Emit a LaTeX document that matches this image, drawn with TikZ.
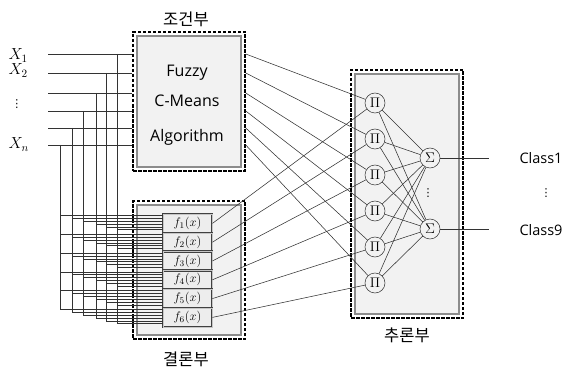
\RequirePackage{fix-cm}
\documentclass[tikz,border=0pt]{standalone}
\usepackage{fontspec}
\newfontfamily\kr{Noto Sans CJK KR}
\newfontfamily\lat{Open Sans}
\newfontfamily\dv{DejaVu Sans}
\definecolor{boxfill}{HTML}{F2F2F2}
\definecolor{boxedge}{HTML}{8C8C8C}
\begin{document}
\begin{tikzpicture}[x=1pt,y=-1pt,
  outerbox/.style={draw=black, line width=1.5pt, dash pattern=on 3.5pt off 1.5pt, minimum width=112pt, inner sep=0pt},
  innerbox/.style={draw=boxedge, line width=1.8pt, fill=boxfill, minimum width=104pt, inner sep=0pt},
  fbox/.style={draw=black!75, line width=0.9pt, fill=gray!14, double=gray!45, double distance=0.6pt, minimum width=49pt, minimum height=18.8pt, inner sep=0pt, font=\fontsize{12.5}{13}\selectfont},
  neuron/.style={circle, draw=black!80, line width=0.5pt, fill=boxfill, minimum size=20pt, inner sep=0pt, font=\fontsize{14}{14}\selectfont},
  wire/.style={draw=black!80, line width=0.55pt},
  krlabel/.style={font=\kr\fontsize{16.5}{18}\selectfont},
  txt/.style={font=\lat\fontsize{16}{18}\selectfont},
  xlabel/.style={anchor=base west, font=\fontsize{16}{18}\selectfont},
  dotlabel/.style={font=\dv\fontsize{11}{12}\selectfont, inner sep=0pt},
]
\useasboundingbox (0,0) rectangle (566,369);

% boxes
\node[innerbox, minimum height=131pt] (condin) at (189,101.5) {};
\node[outerbox, minimum height=139pt] (cond) at (189,101.5) {};
\node[innerbox, minimum height=130pt] (conclin) at (189,270) {};
\node[outerbox, minimum height=138pt] (concl) at (189,270) {};
\node[innerbox, minimum height=240pt] (infin) at (407,194) {};
\node[outerbox, minimum height=248pt] (inf) at (407,194) {};

% labels
\node[krlabel] (lcond) at (186,19) {조건부};
\node[krlabel] (lconcl) at (186,359) {결론부};
\node[krlabel] (linf) at (407,335) {추론부};

\node[txt, anchor=base] (t1) at (187,77) {Fuzzy};
\node[txt, anchor=base] (t2) at (187,107) {C-Means};
\node[txt, anchor=base] (t3) at (187,142) {Algorithm};

\node[xlabel] (x1) at (5,60) {$X_1$};
\node[xlabel] (x2) at (5,75) {$X_2$};
\node[dotlabel] (xd) at (17,104) {⋮};
\node[xlabel] (xn) at (5,149) {$X_n$};

% f boxes
\foreach \i in {1,...,6}
  \node[fbox] (f\i) at (187.5,{223.4+18.8*(\i-1)}) {$f_{\i}(x)$};

% Pi and Sigma nodes
\foreach \i in {1,...,6}
  \node[neuron] (p\i) at (375,{103+36*(\i-1)}) {$\Pi$};
\node[neuron] (s1) at (430,158) {$\Sigma$};
\node[neuron] (s2) at (430,229) {$\Sigma$};
\node[dotlabel] (d1) at (428,193) {⋮};
\node[dotlabel] (d2) at (546,193) {⋮};

% inputs and bus
\foreach \k/\yy/\xv in {1/54/117, 2/73/106, 3/93/96, 4/111/83, 5/128/72, 6/145/60}{
  \coordinate (in\k) at (48,\yy);
  \coordinate (v\k) at (\xv,\yy);
  \pgfmathsetmacro\yend{308.4+1.5+2.85*(6-\k)}
  \coordinate (vb\k) at (\xv,\yend);
  \draw[wire] (in\k) -- (in\k -| cond.west);
  \draw[wire] (v\k) -- (vb\k);
  \foreach \i in {1,...,6}{
    \pgfmathsetmacro\yh{214+18.8*(\i-1)+1.5+2.85*(6-\k)}
    \draw[wire] (\xv,\yh) -- (f\i.west |- 0,\yh);
  }
  \draw[wire] (cond.east |- in\k) -- (p\k);
}

% f to Pi, Pi to Sigma
\foreach \i in {1,...,6}{
  \draw[wire] (f\i.east) -- (p\i);
  \draw[wire] (p\i) -- (s1);
  \draw[wire] (p\i) -- (s2);
}

% outputs
\coordinate (o1) at (489,158);
\coordinate (o2) at (489,229);
\draw[wire] (s1) -- (o1);
\draw[wire] (s2) -- (o2);
\node[txt, anchor=base west, font=\lat\fontsize{14.5}{16}\selectfont] (c1) at (516,164) {Class1};
\node[txt, anchor=base west, font=\lat\fontsize{14.5}{16}\selectfont] (c9) at (516,235) {Class9};
\end{tikzpicture}
\end{document}
